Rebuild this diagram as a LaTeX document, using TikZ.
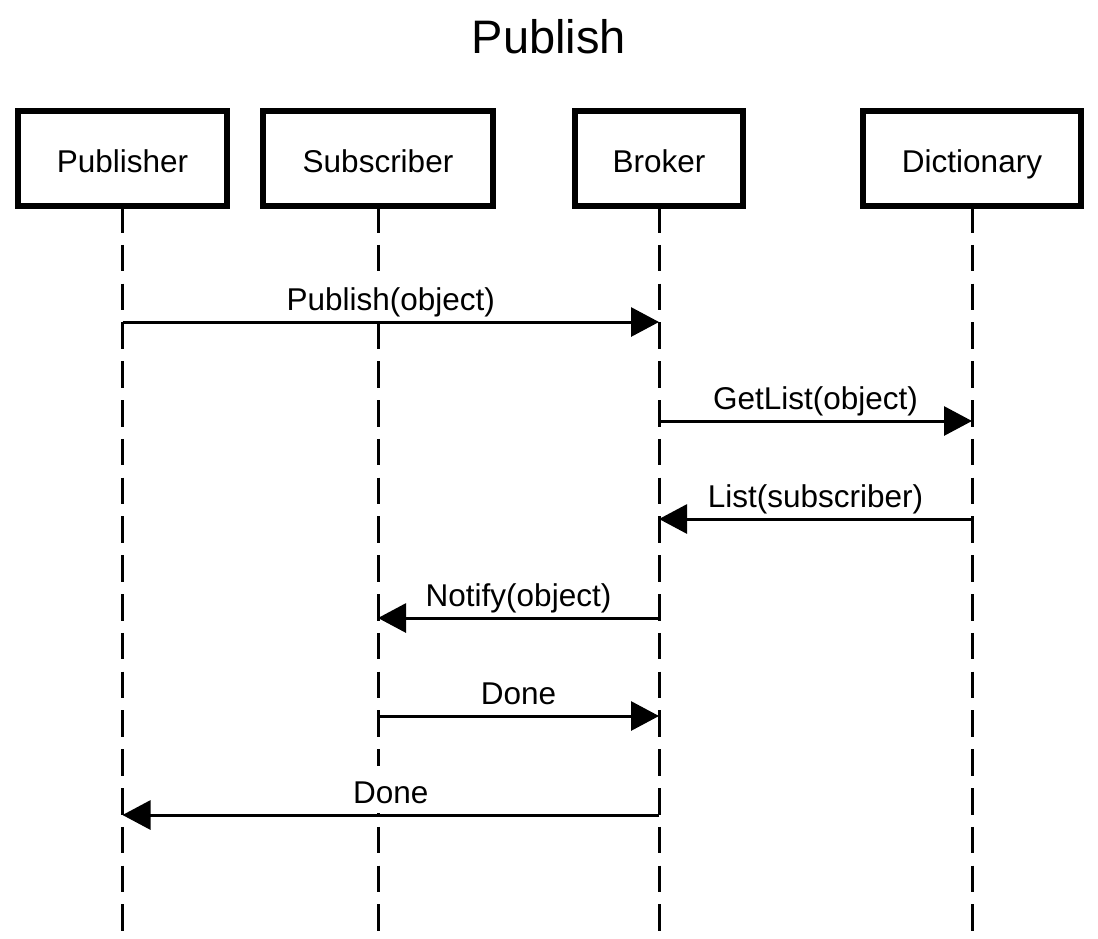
\documentclass[tikz,border=0pt]{standalone}
\usepackage{fontspec}
\setmainfont{Liberation Sans}
\usetikzlibrary{arrows.meta}
\begin{document}
\begin{tikzpicture}[x=1pt,y=-1pt,
  actor/.style={draw,line width=6pt,outer sep=0pt,inner sep=0pt,
    text height=27pt,text depth=0pt,font=\fontsize{31.5}{36}\selectfont},
  lifeline/.style={line width=3pt,dash pattern=on 26.5pt off 12.3pt},
  msg/.style={line width=3pt,-{Triangle[length=28pt,width=29pt]}},
  msglabel/.style={anchor=base,yshift=12pt,fill=white,inner xsep=2pt,inner ysep=2pt,
    text height=35pt,text depth=8pt,font=\fontsize{31.5}{36}\selectfont}]
\useasboundingbox (0,0) rectangle (1098,938);
\node[anchor=base,inner sep=0pt,font=\fontsize{47}{54}\selectfont] (title) at (549,53) {Publish};
\node[actor,minimum width=209pt,minimum height=95pt] (pub) at (122.5,158.5) {Publisher};
\node[actor,minimum width=230pt,minimum height=95pt] (sub) at (378,158.5) {Subscriber};
\node[actor,minimum width=168pt,minimum height=95pt] (bro) at (659,158.5) {Broker};
\node[actor,minimum width=218pt,minimum height=95pt] (dic) at (972,158.5) {Dictionary};
\coordinate (pubE) at (122.5,938);
\coordinate (subE) at (378,938);
\coordinate (broE) at (659,938);
\coordinate (dicE) at (972,938);
\draw[lifeline] (pub.south) -- (pubE);
\draw[lifeline] (sub.south) -- (subE);
\draw[lifeline] (bro.south) -- (broE);
\draw[lifeline] (dic.south) -- (dicE);
% message end points
\coordinate (m1a) at (122.5,322); \coordinate (m1b) at (659,322);
\coordinate (m2a) at (659,421);   \coordinate (m2b) at (972,421);
\coordinate (m3a) at (972,519);   \coordinate (m3b) at (659,519);
\coordinate (m4a) at (659,618);   \coordinate (m4b) at (378,618);
\coordinate (m5a) at (378,716);   \coordinate (m5b) at (659,716);
\coordinate (m6a) at (659,815);   \coordinate (m6b) at (122.5,815);
% labels (white background hides lifelines)
\path (m1a) -- (m1b) node[msglabel,midway] (l1) {Publish(object)};
\path (m2a) -- (m2b) node[msglabel,midway] (l2) {GetList(object)};
\path (m3a) -- (m3b) node[msglabel,midway] (l3) {List(subscriber)};
\path (m4a) -- (m4b) node[msglabel,midway] (l4) {Notify(object)};
\path (m5a) -- (m5b) node[msglabel,midway] (l5) {Done};
\path (m6a) -- (m6b) node[msglabel,midway] (l6) {Done};
% messages
\draw[msg] (m1a) -- (m1b);
\draw[msg] (m2a) -- (m2b);
\draw[msg] (m3a) -- (m3b);
\draw[msg] (m4a) -- (m4b);
\draw[msg] (m5a) -- (m5b);
\draw[msg] (m6a) -- (m6b);
\end{tikzpicture}
\end{document}
